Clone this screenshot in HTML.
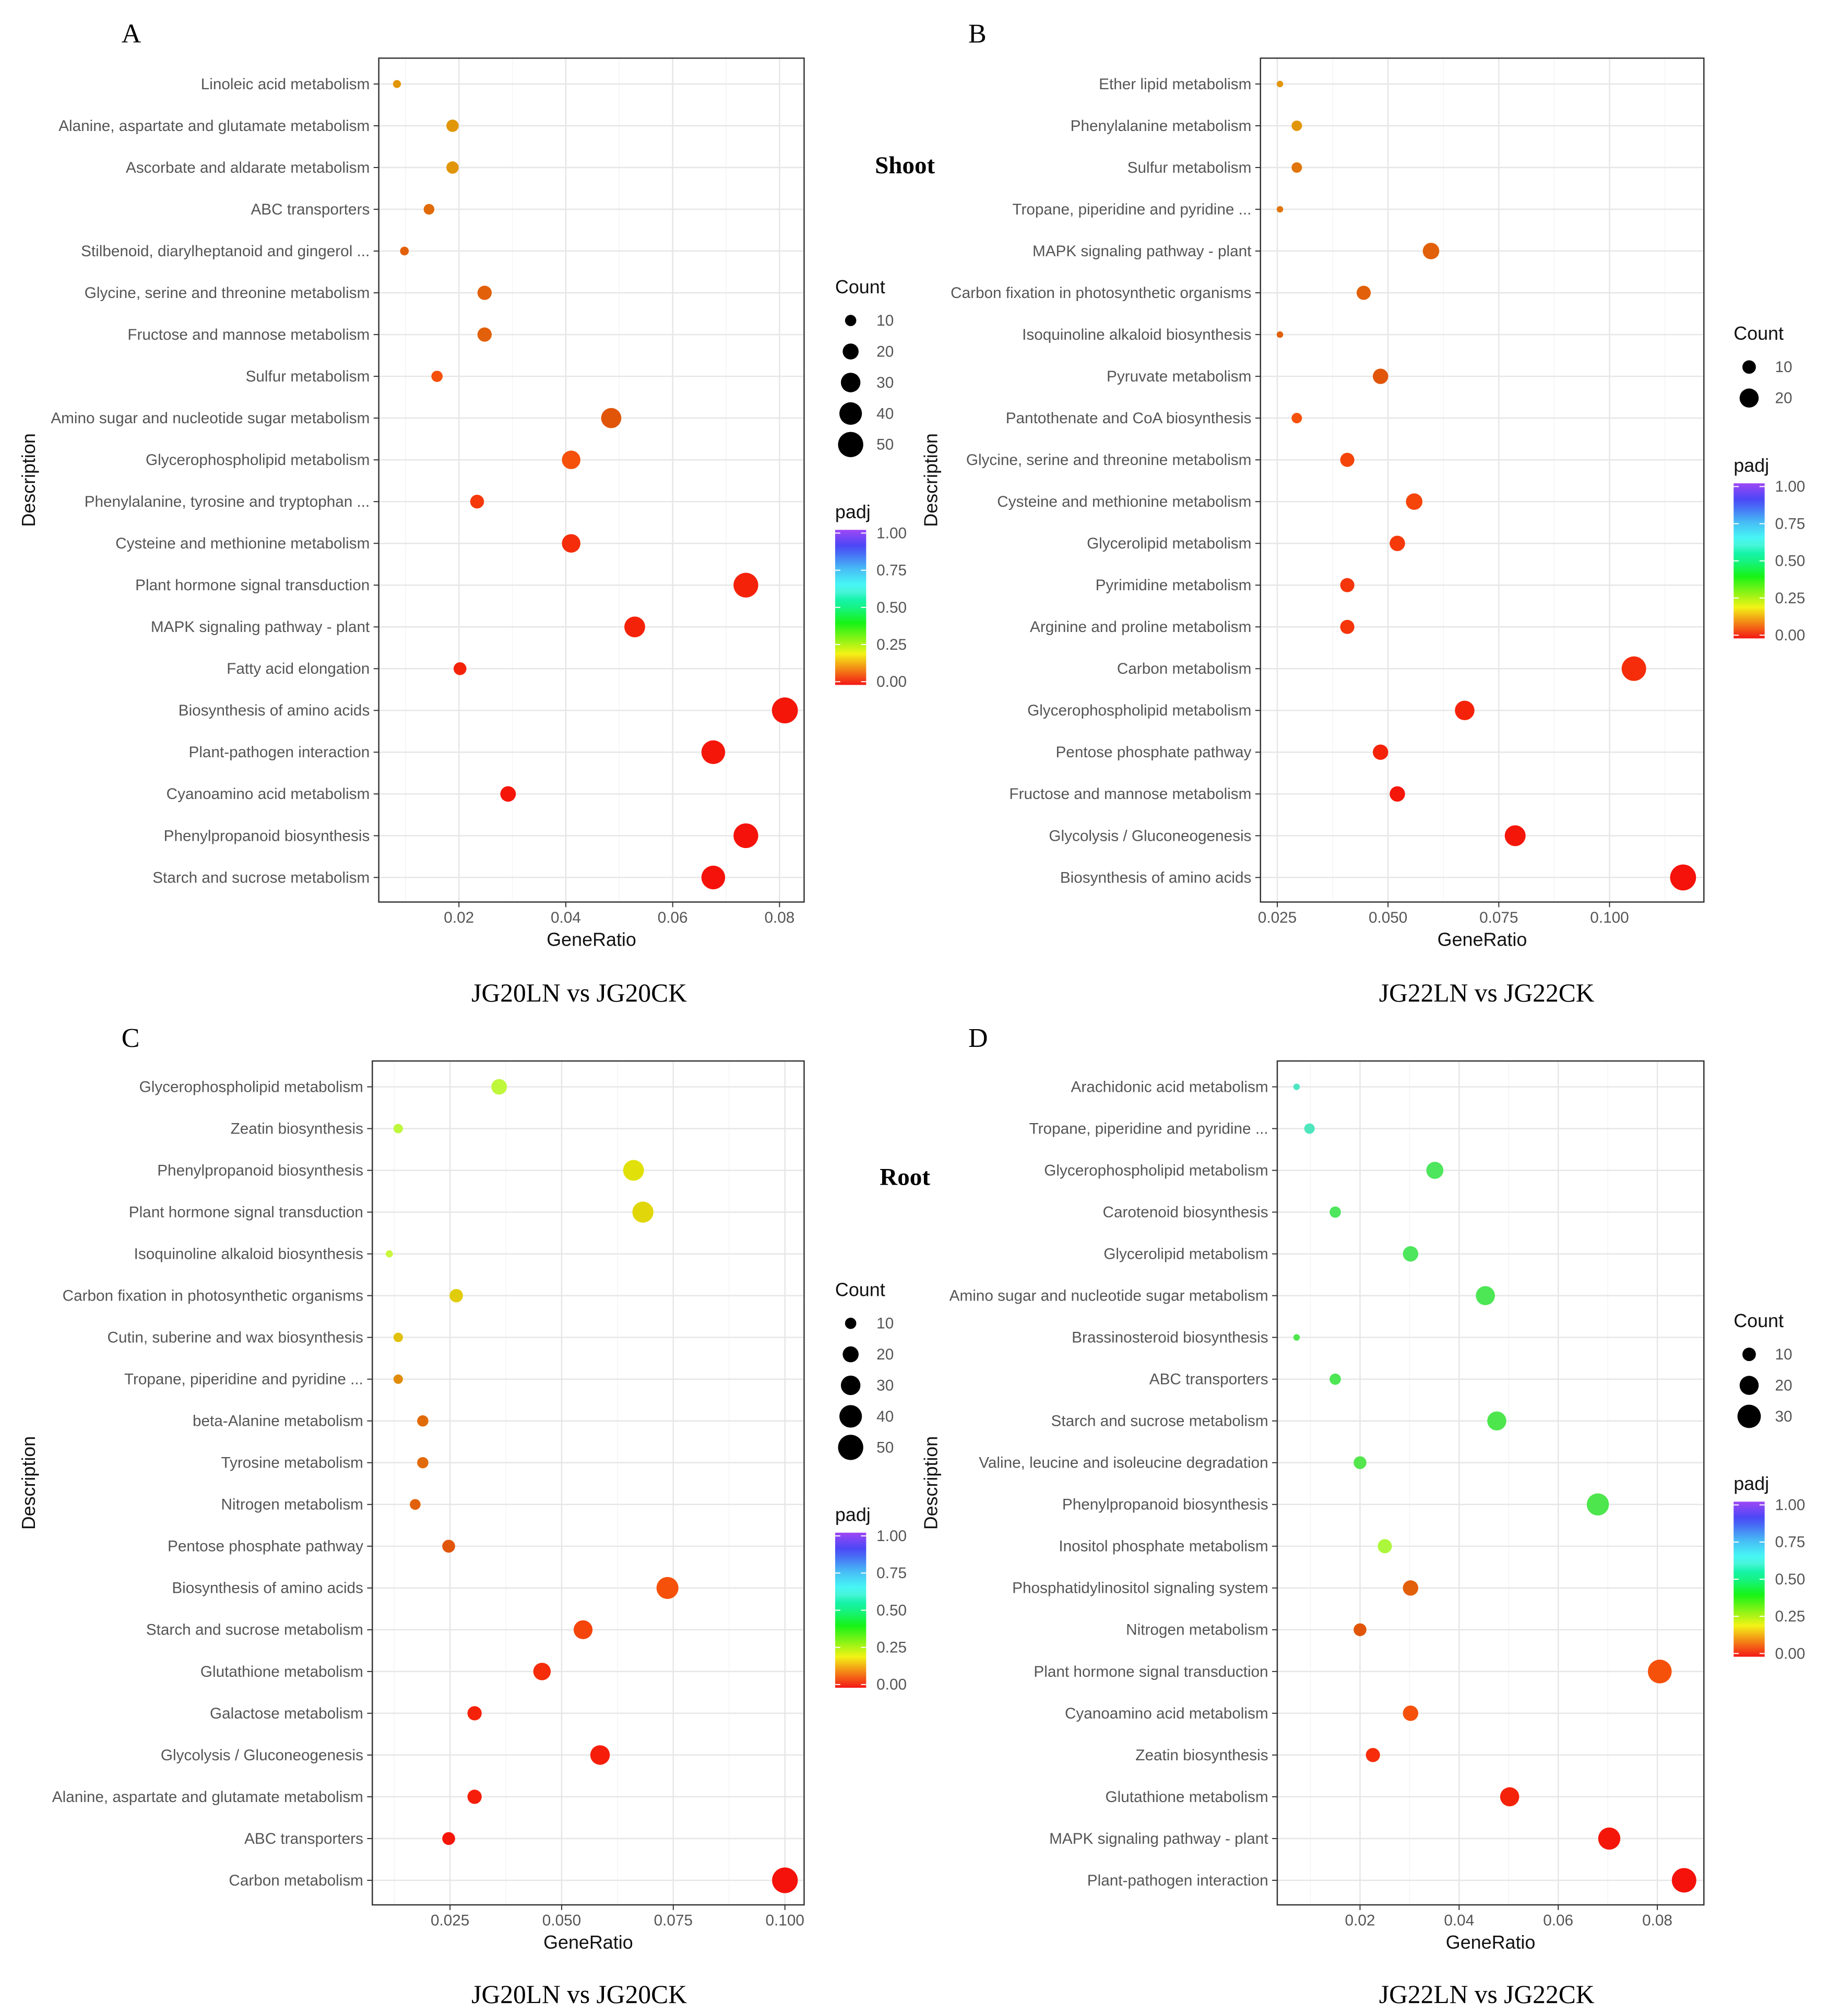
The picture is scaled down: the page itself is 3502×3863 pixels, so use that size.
<!DOCTYPE html>
<html><head><meta charset="utf-8"><style>
html,body{margin:0;padding:0;background:#fff}
svg{display:block}
.lab{font-family:"Liberation Sans",sans-serif;font-size:12px;fill:#555}
.ttl{font-family:"Liberation Sans",sans-serif;font-size:14.5px;fill:#111}
.ser{font-family:"Liberation Serif",serif;fill:#000}
</style></head><body>
<svg id="root" width="3502" height="3863" viewBox="0 0 1414 1560" preserveAspectRatio="none" xmlns="http://www.w3.org/2000/svg">
<rect width="1414" height="1560" fill="#fff"/>
<text class="ser" x="94" y="33" font-size="21">A</text>
<text class="ser" x="749" y="33" font-size="21">B</text>
<text class="ser" x="94" y="810" font-size="21">C</text>
<text class="ser" x="749" y="810" font-size="21">D</text>
<text class="ser" x="700" y="134" font-size="19" font-weight="bold" text-anchor="middle">Shoot</text>
<text class="ser" x="700" y="917" font-size="19" font-weight="bold" text-anchor="middle">Root</text>
<text class="ser" x="448" y="775" font-size="20" text-anchor="middle">JG20LN vs JG20CK</text>
<text class="ser" x="1150" y="775" font-size="20" text-anchor="middle">JG22LN vs JG22CK</text>
<text class="ser" x="448" y="1550" font-size="20" text-anchor="middle">JG20LN vs JG20CK</text>
<text class="ser" x="1150" y="1550" font-size="20" text-anchor="middle">JG22LN vs JG22CK</text>
</svg>
<script>
const termsA=["Linoleic acid metabolism","Alanine, aspartate and glutamate metabolism","Ascorbate and aldarate metabolism","ABC transporters","Stilbenoid, diarylheptanoid and gingerol ...","Glycine, serine and threonine metabolism","Fructose and mannose metabolism","Sulfur metabolism","Amino sugar and nucleotide sugar metabolism","Glycerophospholipid metabolism","Phenylalanine, tyrosine and tryptophan ...","Cysteine and methionine metabolism","Plant hormone signal transduction","MAPK signaling pathway - plant","Fatty acid elongation","Biosynthesis of amino acids","Plant-pathogen interaction","Cyanoamino acid metabolism","Phenylpropanoid biosynthesis","Starch and sucrose metabolism"];
const ratioA=[0.0084,0.0188,0.0188,0.0144,0.0098,0.0248,0.0248,0.0159,0.0485,0.041,0.0234,0.041,0.0737,0.0529,0.0202,0.081,0.0676,0.0292,0.0737,0.0676];
const countA=[5,12,12,9,6,16,16,10,32,27,15,27,48,34,13,53,44,19,48,44];
const padjA=[0.13,0.13,0.13,0.09,0.08,0.08,0.08,0.06,0.07,0.06,0.04,0.03,0.02,0.02,0.02,0.01,0.01,0.01,0.005,0.005];

const termsB=["Ether lipid metabolism","Phenylalanine metabolism","Sulfur metabolism","Tropane, piperidine and pyridine ...","MAPK signaling pathway - plant","Carbon fixation in photosynthetic organisms","Isoquinoline alkaloid biosynthesis","Pyruvate metabolism","Pantothenate and CoA biosynthesis","Glycine, serine and threonine metabolism","Cysteine and methionine metabolism","Glycerolipid metabolism","Pyrimidine metabolism","Arginine and proline metabolism","Carbon metabolism","Glycerophospholipid metabolism","Pentose phosphate pathway","Fructose and mannose metabolism","Glycolysis / Gluconeogenesis","Biosynthesis of amino acids"];
const ratioB=[0.0256,0.0294,0.0294,0.0256,0.0597,0.0445,0.0256,0.0483,0.0294,0.0408,0.0559,0.0521,0.0408,0.0408,0.1055,0.0673,0.0483,0.0521,0.0787,0.1166];
const countB=[2.3,6,6,2.3,15,11,2.3,13,6,11,15,13,11,11,33,21,13,13,24,37];
const padjB=[0.13,0.13,0.1,0.1,0.08,0.08,0.08,0.07,0.06,0.05,0.05,0.04,0.035,0.035,0.03,0.02,0.02,0.01,0.01,0.005];

const termsC=["Glycerophospholipid metabolism","Zeatin biosynthesis","Phenylpropanoid biosynthesis","Plant hormone signal transduction","Isoquinoline alkaloid biosynthesis","Carbon fixation in photosynthetic organisms","Cutin, suberine and wax biosynthesis","Tropane, piperidine and pyridine ...","beta-Alanine metabolism","Tyrosine metabolism","Nitrogen metabolism","Pentose phosphate pathway","Biosynthesis of amino acids","Starch and sucrose metabolism","Glutathione metabolism","Galactose metabolism","Glycolysis / Gluconeogenesis","Alanine, aspartate and glutamate metabolism","ABC transporters","Carbon metabolism"];
const ratioC=[0.036,0.0134,0.0661,0.0682,0.0114,0.0264,0.0134,0.0134,0.0189,0.0189,0.0172,0.0247,0.0737,0.0548,0.0456,0.0305,0.0586,0.0305,0.0247,0.1];
const countC=[19,7,34,35,4,14,7,7,10,10,9,13,38,28,24,16,30,16,13,52];
const padjC=[0.26,0.26,0.2,0.19,0.25,0.18,0.17,0.12,0.09,0.09,0.08,0.07,0.06,0.05,0.03,0.02,0.015,0.015,0.01,0.005];

const termsD=["Arachidonic acid metabolism","Tropane, piperidine and pyridine ...","Glycerophospholipid metabolism","Carotenoid biosynthesis","Glycerolipid metabolism","Amino sugar and nucleotide sugar metabolism","Brassinosteroid biosynthesis","ABC transporters","Starch and sucrose metabolism","Valine, leucine and isoleucine degradation","Phenylpropanoid biosynthesis","Inositol phosphate metabolism","Phosphatidylinositol signaling system","Nitrogen metabolism","Plant hormone signal transduction","Cyanoamino acid metabolism","Zeatin biosynthesis","Glutathione metabolism","MAPK signaling pathway - plant","Plant-pathogen interaction"];
const ratioD=[0.0072,0.0098,0.0351,0.015,0.0302,0.0453,0.0072,0.015,0.0476,0.02,0.068,0.025,0.0302,0.02,0.0805,0.0302,0.0226,0.0502,0.0703,0.0854];
const countD=[2.3,6,16,7,13,20,2.3,7,20,9,27,11,13,9,31,13,11,20,27,33];
const padjD=[0.58,0.57,0.42,0.42,0.42,0.41,0.40,0.41,0.40,0.39,0.40,0.28,0.08,0.07,0.06,0.06,0.03,0.02,0.01,0.005];

const ticksA=[0.02,0.04,0.06,0.08], tickLabA=["0.02","0.04","0.06","0.08"];
const ticksB=[0.025,0.05,0.075,0.1], tickLabB=["0.025","0.050","0.075","0.100"];
const ticksC=[0.025,0.05,0.075,0.1], tickLabC=["0.025","0.050","0.075","0.100"];
const ticksD=[0.02,0.04,0.06,0.08], tickLabD=["0.02","0.04","0.06","0.08"];
const legCountA=[10,20,30,40,50], legCountB=[10,20], legCountC=[10,20,30,40,50], legCountD=[10,20,30];
const padjTicks=[1,0.75,0.5,0.25,0], padjTickLab=["1.00","0.75","0.50","0.25","0.00"];

const NS="http://www.w3.org/2000/svg";
const root=document.getElementById('root');
function mk(tag,attrs,parent){const e=document.createElementNS(NS,tag);for(const k in attrs)e.setAttribute(k,attrs[k]);(parent||root).appendChild(e);return e;}
const hueStops=[[0,0],[0.25,75],[0.5,150],[0.75,200],[1,270]];
function hue(p){for(let i=1;i<hueStops.length;i++){if(p<=hueStops[i][0]){const a=hueStops[i-1],b=hueStops[i];return a[1]+(b[1]-a[1])*(p-a[0])/(b[0]-a[0]);}}return 270;}
function light(h){if(h<20)return 50;if(h<75)return 46;if(h<170)return 60;return 60;}
function col(p){const h=hue(p);return `hsl(${h.toFixed(0)},${h>90?75:92}%,${light(h)}%)`;}

const panels=[
 {id:'a',terms:termsA,ratio:ratioA,count:countA,padj:padjA,ticks:ticksA,tl:tickLabA,x0:293,x1:622,y0:45,y1:698,dom:[0.0050,0.0846],k:1.38,desc:22,leg:legCountA,legX:646,cntY:222,padjY:396},
 {id:'b',terms:termsB,ratio:ratioB,count:countB,padj:padjB,ticks:ticksB,tl:tickLabB,x0:975,x1:1318,y0:45,y1:698,dom:[0.0212,0.1213],k:1.65,desc:720,leg:legCountB,legX:1341,cntY:258,padjY:360},
 {id:'c',terms:termsC,ratio:ratioC,count:countC,padj:padjC,ticks:ticksC,tl:tickLabC,x0:288,x1:622,y0:821,y1:1474,dom:[0.0076,0.1043],k:1.38,desc:22,leg:legCountC,legX:646,cntY:998,padjY:1172},
 {id:'d',terms:termsD,ratio:ratioD,count:countD,padj:padjD,ticks:ticksD,tl:tickLabD,x0:988,x1:1318,y0:821,y1:1474,dom:[0.0033,0.0894],k:1.65,desc:720,leg:legCountD,legX:1341,cntY:1022,padjY:1148}
];

panels.forEach(P=>{
 const g=mk('g',{});
 
 
 const xs=v=>P.x0+(v-P.dom[0])/(P.dom[1]-P.dom[0])*(P.x1-P.x0);
 const n=P.terms.length, rT=P.y0+20, rB=P.y1-19, step=(rB-rT)/(n-1);
 const ys=i=>rT+i*step;
 const tstep=P.ticks[1]-P.ticks[0];
 for(let v=P.ticks[0]-tstep/2; v<P.dom[1]; v+=tstep){ if(v>P.dom[0]){const l=mk('line',{x1:xs(v),x2:xs(v),y1:P.y0,y2:P.y1,stroke:'#f4f4f4','stroke-width':0.6},g);}}
 P.ticks.forEach((t,i)=>{
  const l=mk('line',{x1:xs(t),x2:xs(t),y1:P.y0,y2:P.y1,stroke:'#e6e6e6','stroke-width':1},g);
  
  
  const tk=mk('line',{x1:xs(t),x2:xs(t),y1:P.y1,y2:P.y1+4,stroke:'#333','stroke-width':0.8},g);
  
  
  const tx=mk('text',{x:xs(t),y:P.y1+16,'text-anchor':'middle',class:'lab'},g);tx.textContent=P.tl[i];
  
  
 });
 P.terms.forEach((t,i)=>{
  const l=mk('line',{x1:P.x0,x2:P.x1,y1:ys(i),y2:ys(i),stroke:'#e6e6e6','stroke-width':1},g);
  
  
  const tk=mk('line',{x1:P.x0-4,x2:P.x0,y1:ys(i),y2:ys(i),stroke:'#333','stroke-width':0.8},g);
  
  
  const tx=mk('text',{x:P.x0-7,y:ys(i)+4,'text-anchor':'end',class:'lab'},g);tx.textContent=t;
  
  
 });
 const box=mk('rect',{x:P.x0,y:P.y0,width:P.x1-P.x0,height:P.y1-P.y0,fill:'none',stroke:'#333','stroke-width':1},g);
 
 
 P.terms.forEach((t,i)=>{
  const c=mk('circle',{cx:xs(P.ratio[i]),cy:ys(i),r:P.k*Math.sqrt(P.count[i]),fill:col(P.padj[i])},g);
  
  
 });
 const xt=mk('text',{x:(P.x0+P.x1)/2,y:P.y1+34,'text-anchor':'middle',class:'ttl'},g);xt.textContent='GeneRatio';
 
 
 const cy=(P.y0+P.y1)/2;
 const yt=mk('text',{x:P.desc+5,y:cy,'text-anchor':'middle',class:'ttl',transform:`rotate(-90 ${P.desc+5} ${cy})`},g);yt.textContent='Description';
 
 
 const ct=mk('text',{x:P.legX,y:P.cntY+5,class:'ttl'},g);ct.textContent='Count';
 
 
 P.leg.forEach((v,i)=>{
  const yy=P.cntY+26+i*24;
  const c=mk('circle',{cx:P.legX+12,cy:yy,r:P.k*Math.sqrt(v),fill:'#000'},g);
  
  
  const tx=mk('text',{x:P.legX+32,y:yy+4,class:'lab'},g);tx.textContent=v;
  
  
 });
 const pt=mk('text',{x:P.legX,y:P.padjY+5,class:'ttl'},g);pt.textContent='padj';
 
 
 const gid='grad'+P.id;
 const defs=mk('defs',{},g);
 const lg=mk('linearGradient',{id:gid,x1:0,y1:1,x2:0,y2:0},defs);
 for(let s=0;s<=20;s++){const h=hue(s/20);mk('stop',{offset:s/20,'stop-color':`hsl(${h.toFixed(0)},90%,${h>160?62:52}%)`},lg);}
 const by0=P.padjY+14, bh=120;
 const bar=mk('rect',{x:P.legX,y:by0,width:24,height:bh,fill:`url(#${gid})`},g);
 
 
 padjTicks.forEach((v,i)=>{
  const yy=by0+bh-v*(bh-5)-2.5;
  mk('line',{x1:P.legX,x2:P.legX+4,y1:yy,y2:yy,stroke:'#fff','stroke-width':0.8},g);
  mk('line',{x1:P.legX+20,x2:P.legX+24,y1:yy,y2:yy,stroke:'#fff','stroke-width':0.8},g);
  const tx=mk('text',{x:P.legX+32,y:yy+4,class:'lab'},g);tx.textContent=padjTickLab[i];
  
  
 });
});
</script>
</body></html>
